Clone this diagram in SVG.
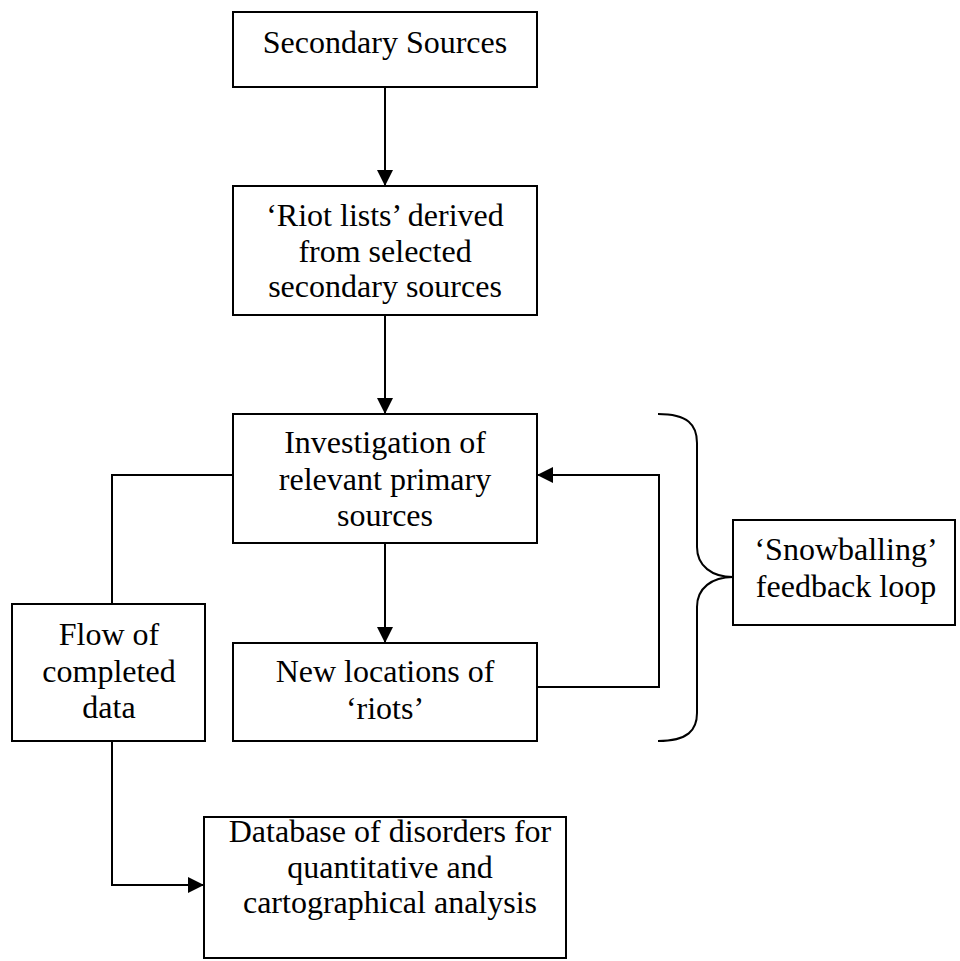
<svg xmlns="http://www.w3.org/2000/svg" width="960" height="961" viewBox="0 0 960 961">
<defs>
<marker id="ah" viewBox="0 0 16 16" refX="16" refY="8" markerWidth="16" markerHeight="16" markerUnits="userSpaceOnUse" orient="auto">
<path d="M0,0 L16,8 L0,16 Z" fill="#000"/>
</marker>
<style>
.box{fill:#fff;stroke:#000;stroke-width:2}
.ln{fill:none;stroke:#000;stroke-width:2}
text{font-family:"Liberation Serif","Times New Roman",serif;font-size:32px;fill:#000;text-anchor:middle}
</style>
</defs>
<rect width="960" height="961" fill="#fff"/>
<g id="connectors">
<line class="ln" x1="385" y1="87" x2="385" y2="186" marker-end="url(#ah)"/>
<line class="ln" x1="385" y1="315" x2="385" y2="414" marker-end="url(#ah)"/>
<line class="ln" x1="385" y1="543" x2="385" y2="643" marker-end="url(#ah)"/>
<polyline class="ln" points="537,687 659,687 659,475 537,475" marker-end="url(#ah)"/>
<polyline class="ln" points="233,475 112,475 112,604"/>
<polyline class="ln" points="112,741 112,885 204,885" marker-end="url(#ah)"/>
<path class="ln" d="M658,414 C688,414 697,425 697,443 L697,547 C697,566 712,577 733,577 C712,577 697,588 697,607 L697,713 C697,730 688,741 658,741"/>
</g>
<g id="secondary-sources">
<rect class="box" x="233" y="12" width="304" height="75"/>
<text x="385" y="53">Secondary Sources</text>
</g>
<g id="riot-lists">
<rect class="box" x="233" y="186" width="304" height="129"/>
<text x="385" y="226">‘Riot lists’ derived</text>
<text x="385" y="262">from selected</text>
<text x="385" y="297">secondary sources</text>
</g>
<g id="investigation">
<rect class="box" x="233" y="414" width="304" height="129"/>
<text x="385" y="453">Investigation of</text>
<text x="385" y="490">relevant primary</text>
<text x="385" y="526">sources</text>
</g>
<g id="new-locations">
<rect class="box" x="233" y="643" width="304" height="98"/>
<text x="385" y="682">New locations of</text>
<text x="385" y="719">‘riots’</text>
</g>
<g id="flow">
<rect class="box" x="12" y="604" width="193" height="137"/>
<text x="109" y="645">Flow of</text>
<text x="109" y="682">completed</text>
<text x="109" y="718">data</text>
</g>
<g id="database">
<rect class="box" x="204" y="817" width="362" height="141"/>
<text x="390" y="842">Database of disorders for</text>
<text x="390" y="878">quantitative and</text>
<text x="390" y="913">cartographical analysis</text>
</g>
<g id="snowballing">
<rect class="box" x="733" y="520" width="222" height="105"/>
<text x="846" y="560">‘Snowballing’</text>
<text x="846" y="597">feedback loop</text>
</g>
</svg>
